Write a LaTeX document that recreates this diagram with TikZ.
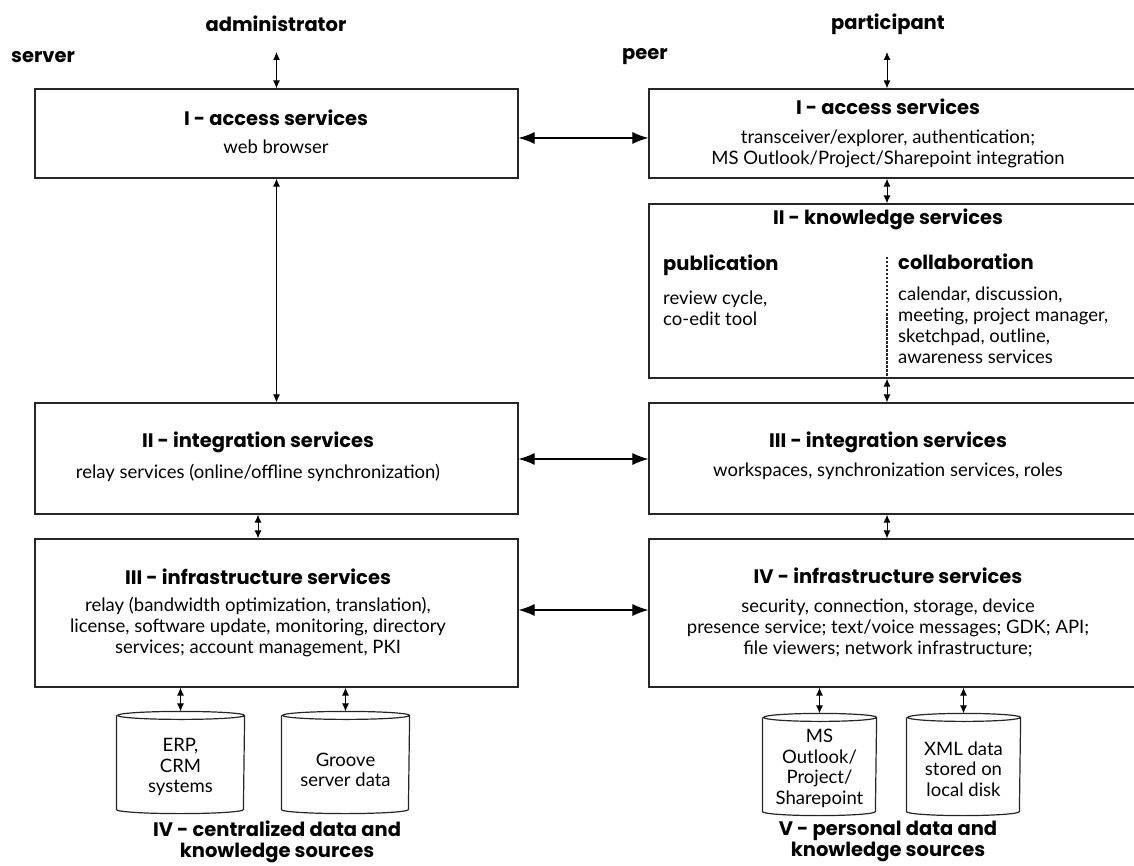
\documentclass[tikz,border=0pt]{standalone}
\usepackage{fontspec}
\setmainfont{Lato}
\newfontfamily\ttlfont{Poppins}
\usetikzlibrary{arrows.meta,calc}
\begin{document}
\begin{tikzpicture}[x=1pt,y=1pt,
  box/.style={draw=black!85, line width=1.2pt, rectangle, inner sep=0pt},
  ttl/.style={font=\ttlfont\fontsize{19.5}{22}\selectfont\bfseries, inner sep=0pt, align=center},
  body/.style={font=\fontsize{18.5}{21}\selectfont, align=center, inner sep=0pt},
  cyltext/.style={font=\fontsize{18.5}{20.7}\selectfont, align=center, inner sep=0pt},
  harr/.style={line width=1.1pt, {Latex[length=16pt,width=12pt]}-{Latex[length=16pt,width=12pt]}},
  varr/.style={line width=1pt, {Latex[length=8pt,width=7pt]}-{Latex[length=8pt,width=7pt]}},
  cyl/.style={draw=black!85, line width=1.2pt, inner sep=0pt}
]
\useasboundingbox (0,0) rectangle (1134,-866);
\clip (0,0) rectangle (1134,-866);

% column coordinates
\coordinate (lx) at (258,0);
\coordinate (rx) at (887,0);
\coordinate (aL) at (276.5,-52);
\coordinate (aR) at (887,-52);

% top labels
\node[ttl] (admin) at (276,-24) {administrator};
\node[ttl] (part) at (888,-24) {participant};
\node[ttl, anchor=west] (server) at (11,-57) {server};
\node[ttl, anchor=west] (peer) at (622,-57) {peer};

% boxes left
\node[box, minimum width=483pt, minimum height=89pt] (L1) at (276.5,-133.5) {};
\node[box, minimum width=483pt, minimum height=111pt] (L2) at (276.5,-458.5) {};
\node[box, minimum width=483pt, minimum height=148pt] (L3) at (276.5,-613) {};
% boxes right
\node[box, minimum width=496pt, minimum height=89pt] (R1) at (897,-133.5) {};
\node[box, minimum width=496pt, minimum height=174pt] (R2) at (897,-291) {};
\node[box, minimum width=496pt, minimum height=111pt] (R3) at (897,-458.5) {};
\node[box, minimum width=496pt, minimum height=148pt] (R4) at (897,-613) {};

% texts left
\node[ttl] (L1t) at (276,-118) {I - access services};
\node[body] (L1b) at (276,-147) {web browser};
\node[ttl] (L2t) at (258,-442) {II - integration services};
\node[body] (L2b) at (258,-473) {relay services (online/offline synchronization)};
\node[ttl] (L3t) at (258,-577) {III - infrastructure services};
\node[body] (L3b) at (258,-627.5) {relay (bandwidth optimization, translation),\\license, software update, monitoring, directory\\services; account management, PKI};

% texts right
\node[ttl] (R1t) at (888,-107) {I - access services};
\node[body] (R1b) at (888,-148.5) {transceiver/explorer, authentication;\\MS Outlook/Project/Sharepoint integration};
\node[ttl] (R2t) at (888,-219) {II - knowledge services};
\node[ttl, anchor=west] (pub) at (663,-265) {publication};
\node[body, anchor=west, align=left] (pubb) at (663,-308.5) {review cycle,\\co-edit tool};
\node[ttl, anchor=west] (col) at (898,-262) {collaboration};
\node[body, anchor=west, align=left] (colb) at (898,-325) {calendar, discussion,\\meeting, project manager,\\sketchpad, outline,\\awareness services};
\node[ttl] (R3t) at (888,-442) {III - integration services};
\node[body] (R3b) at (888,-471) {workspaces, synchronization services, roles};
\node[ttl] (R4t) at (888,-576) {IV - infrastructure services};
\node[body] (R4b) at (888,-627.5) {security, connection, storage, device\\presence service; text/voice messages; GDK; API;\\file viewers; network infrastructure;};

% divider
\coordinate (divtop) at (887,-257);
\draw[black!85, line width=1.1pt, dash pattern=on 2.5pt off 1.5pt] (divtop) -- (divtop |- R2.south);

% cylinders: body nodes (between ellipse centres) and outline
\node[cyl, draw=none, minimum width=127pt, minimum height=93pt] (cA) at (180.5,-762.5) {};
\node[cyl, draw=none, minimum width=127pt, minimum height=93pt] (cB) at (345.5,-762.5) {};
\node[cyl, draw=none, minimum width=113pt, minimum height=93pt] (c1) at (819.5,-764.5) {};
\node[cyl, draw=none, minimum width=113pt, minimum height=93pt] (c2) at (963.5,-764.5) {};
\draw[cyl] (cA.north west) -- (cA.south west) arc[start angle=180,end angle=360,x radius=63.5,y radius=4] -- (cA.north east) arc[start angle=0,end angle=360,x radius=63.5,y radius=4];
\draw[cyl] (cB.north west) -- (cB.south west) arc[start angle=180,end angle=360,x radius=63.5,y radius=4] -- (cB.north east) arc[start angle=0,end angle=360,x radius=63.5,y radius=4];
\draw[cyl] (c1.north west) -- (c1.south west) arc[start angle=180,end angle=360,x radius=56.5,y radius=4] -- (c1.north east) arc[start angle=0,end angle=360,x radius=56.5,y radius=4];
\draw[cyl] (c2.north west) -- (c2.south west) arc[start angle=180,end angle=360,x radius=56.5,y radius=4] -- (c2.north east) arc[start angle=0,end angle=360,x radius=56.5,y radius=4];
\node[cyltext] (cAt) at (180.5,-767) {ERP,\\CRM\\systems};
\node[cyltext] (cBt) at (345.5,-770) {Groove\\server data};
\node[cyltext] (c1t) at (819.5,-768.5) {MS\\Outlook/\\Project/\\Sharepoint};
\node[cyltext] (c2t) at (963.5,-769) {XML data\\stored on\\local disk};

% bottom labels
\node[ttl, font=\ttlfont\fontsize{19.5}{21}\selectfont\bfseries] (cenlab) at (277,-841.5) {IV - centralized data and\\knowledge sources};
\node[ttl, font=\ttlfont\fontsize{19.5}{21}\selectfont\bfseries] (perlab) at (888,-841.5) {V - personal data and\\knowledge sources};

% horizontal arrows
\draw[harr] ([yshift=-4.5pt]L1.east) -- ([yshift=-4.5pt]L1.east -| R1.west);
\draw[harr] ([yshift=-0.5pt]L2.east) -- ([yshift=-0.5pt]L2.east -| R3.west);
\draw[harr] ([yshift=3pt]L3.east) -- ([yshift=3pt]L3.east -| R4.west);

% vertical arrows
\draw[varr] (aL) -- (L1.north);
\draw[varr] (aR) -- (aR |- R1.north);
\draw[varr] (L1.south) -- (L2.north);
\draw[varr] (lx |- L2.south) -- (lx |- L3.north);
\draw[varr] (rx |- R1.south) -- (rx |- R2.north);
\draw[varr] (rx |- R2.south) -- (rx |- R3.north);
\draw[varr] (rx |- R3.south) -- (rx |- R4.north);
\draw[varr] (cA.north |- L3.south) -- ([yshift=4pt]cA.north);
\draw[varr] (cB.north |- L3.south) -- ([yshift=4pt]cB.north);
\draw[varr] (c1.north |- R4.south) -- ([yshift=4pt]c1.north);
\draw[varr] (c2.north |- R4.south) -- ([yshift=4pt]c2.north);
\end{tikzpicture}
\end{document}
